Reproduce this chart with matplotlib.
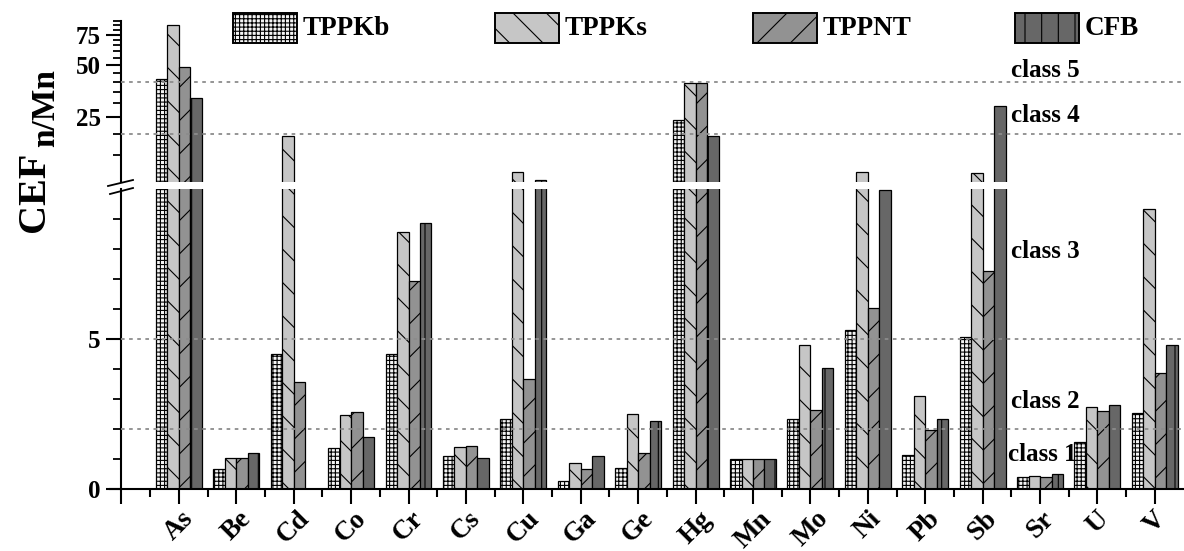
import matplotlib.pyplot as plt
import matplotlib.ticker as mticker
from matplotlib.patches import Rectangle
from matplotlib.lines import Line2D
import numpy as np

# Data
elements = ["As", "Be", "Cd", "Co", "Cr", "Cs", "Cu", "Ga", "Ge",
            "Hg", "Mn", "Mo", "Ni", "Pb", "Sb", "Sr", "U", "V"]

tppkb = [41.3, 0.67, 4.49, 1.38, 4.49, 1.09, 2.34, 0.28, 0.69,
         24.0, 1.0, 2.34, 5.3, 1.15, 5.08, 0.40, 1.56, 2.52]
tppks = [85.0, 1.04, 19.4, 2.47, 8.57, 1.40, 12.0, 0.87, 2.49,
         39.2, 1.0, 4.8, 12.0, 3.1, 11.9, 0.45, 2.75, 9.35]
tppnt = [48.9, 1.04, 3.56, 2.56, 6.93, 1.44, 3.67, 0.67, 1.21,
         39.5, 1.0, 2.62, 6.05, 1.98, 7.27, 0.40, 2.59, 3.88]
cfb = [32.1, 1.21, 0.0, 1.74, 8.88, 1.04, 10.8, 1.09, 2.26,
       19.4, 1.0, 4.05, 9.97, 2.34, 29.1, 0.51, 2.79, 4.8]

series_names = ["TPPKb", "TPPKs", "TPPNT", "CFB"]
class_limits_low = [2, 5]
class_limits_high = [20, 40]

plt.rcParams['font.family'] = ['Liberation Serif', 'DejaVu Serif']
plt.rcParams['font.weight'] = 'bold'
plt.rcParams['hatch.linewidth'] = 0.8

W, H = 1184, 551
fig = plt.figure(figsize=(W / 100, H / 100), dpi=100)


def box(x0, y0, x1, y1):
    # pixel box (top-left origin) -> figure fraction rect
    return [x0 / W, 1 - y1 / H, (x1 - x0) / W, (y1 - y0) / H]


ax = fig.add_axes(box(110, 189, 1183, 489))    # lower part 0..10
axt = fig.add_axes(box(110, 21, 1183, 182))    # upper part, log

x = np.arange(len(elements))
styles = [
    ("#f4f4f4", "++++"),
    ("#c6c6c6", "\\"),
    ("#929292", "/"),
    ("#676767", "|"),
]
offsets = [-0.3, -0.1, 0.1, 0.3]
data = [tppkb, tppks, tppnt, cfb]

for vals, (fc, hatch), off in zip(data, styles, offsets):
    vals = np.array(vals)
    ax.bar(x + off, vals, width=0.2, color=fc, edgecolor='black',
           hatch=hatch, linewidth=0.9, zorder=2)
    axt.bar(x + off, vals - 1, bottom=1, width=0.2, color=fc, edgecolor='black',
            hatch=hatch, linewidth=0.9, zorder=2)

xmin, xmax = -1.2, 17.49
for a in (ax, axt):
    a.set_xlim(xmin, xmax)
    a.spines['top'].set_visible(False)
    a.spines['right'].set_visible(False)
    a.spines['left'].set_position(('data', -1))
    a.spines['left'].set_linewidth(1.5)
    a.spines['bottom'].set_linewidth(1.5)

# lower axis
ax.set_ylim(0, 10)
ax.yaxis.set_major_locator(mticker.FixedLocator([0, 5]))
ax.yaxis.set_minor_locator(mticker.FixedLocator([1, 2, 3, 4, 6, 7, 8, 9]))
ax.xaxis.set_major_locator(mticker.FixedLocator(np.arange(-1, len(elements))))
ax.xaxis.set_minor_locator(mticker.FixedLocator(np.arange(-0.5, len(elements) - 0.5)))
ax.set_xticklabels([""] + elements, rotation=45, ha='center', va='top')
ax.tick_params(axis='x', which='major', length=11, width=1.5, labelsize=19.5, pad=1.5)
ax.tick_params(axis='x', which='minor', length=6, width=1.5)
ax.tick_params(axis='y', which='major', length=11, width=1.5, labelsize=18, pad=4)
ax.tick_params(axis='y', which='minor', length=6, width=1.3)
ax.hlines(class_limits_low, -1, xmax, colors='#8c8c8c', linestyles=(0, (2, 2.5)),
          linewidth=1.3, zorder=4)

# upper axis
axt.set_yscale('log')
axt.set_ylim(10.5, 90)
axt.spines['bottom'].set_visible(False)
axt.tick_params(axis='x', which='both', bottom=False, labelbottom=False)
axt.yaxis.set_major_locator(mticker.FixedLocator([25, 50, 75]))
axt.yaxis.set_major_formatter(mticker.FixedFormatter(["25", "50", "75"]))
axt.yaxis.set_minor_locator(mticker.FixedLocator(
    [15, 20, 30, 35, 40, 45, 55, 60, 65, 70, 80, 85, 90]))
axt.yaxis.set_minor_formatter(mticker.NullFormatter())
axt.tick_params(axis='y', which='major', length=11, width=1.5, labelsize=18, pad=4)
axt.tick_params(axis='y', which='minor', length=6, width=1.3)
axt.hlines(class_limits_high, -1, xmax, colors='#8c8c8c', linestyles=(0, (2, 2.5)),
           linewidth=1.3, zorder=4)

# class labels
tkw = dict(fontsize=18, fontweight='bold', ha='left', va='baseline', zorder=5)
axt.text(14.5, 42.5, "class 5", **tkw)
axt.text(14.5, 23.4, "class 4", **tkw)
ax.text(14.5, 7.7, "class 3", **tkw)
ax.text(14.5, 2.7, "class 2", **tkw)
ax.text(14.45, 0.93, "class 1", **tkw)

# axis break marks
for (x0, y0, x1, y1) in [(108, 186, 133, 180), (110, 194, 133, 188)]:
    fig.add_artist(Line2D([x0 / W, x1 / W], [1 - y0 / H, 1 - y1 / H],
                          color='black', linewidth=1.3))

# y label
fig.text(44 / W, 1 - 232 / H, "CEF", rotation=90, rotation_mode='anchor',
         ha='left', va='baseline', fontsize=29, fontweight='bold')
fig.text(54 / W, 1 - 147 / H, "n/Mn", rotation=90, rotation_mode='anchor',
         ha='left', va='baseline', fontsize=24, fontweight='bold')

# legend
leg_x = [233, 495, 753, 1015]
for lx, name, (fc, hatch) in zip(leg_x, series_names, styles):
    fig.add_artist(Rectangle((lx / W, 1 - 43 / H), 64 / W, 30 / H,
                             facecolor=fc, edgecolor='black', hatch=hatch,
                             linewidth=1.4, transform=fig.transFigure))
    fig.text((lx + 70) / W, 1 - 35 / H, name, fontsize=19.5,
             fontweight='bold', ha='left', va='baseline')

fig.savefig("out.png", dpi=100)
